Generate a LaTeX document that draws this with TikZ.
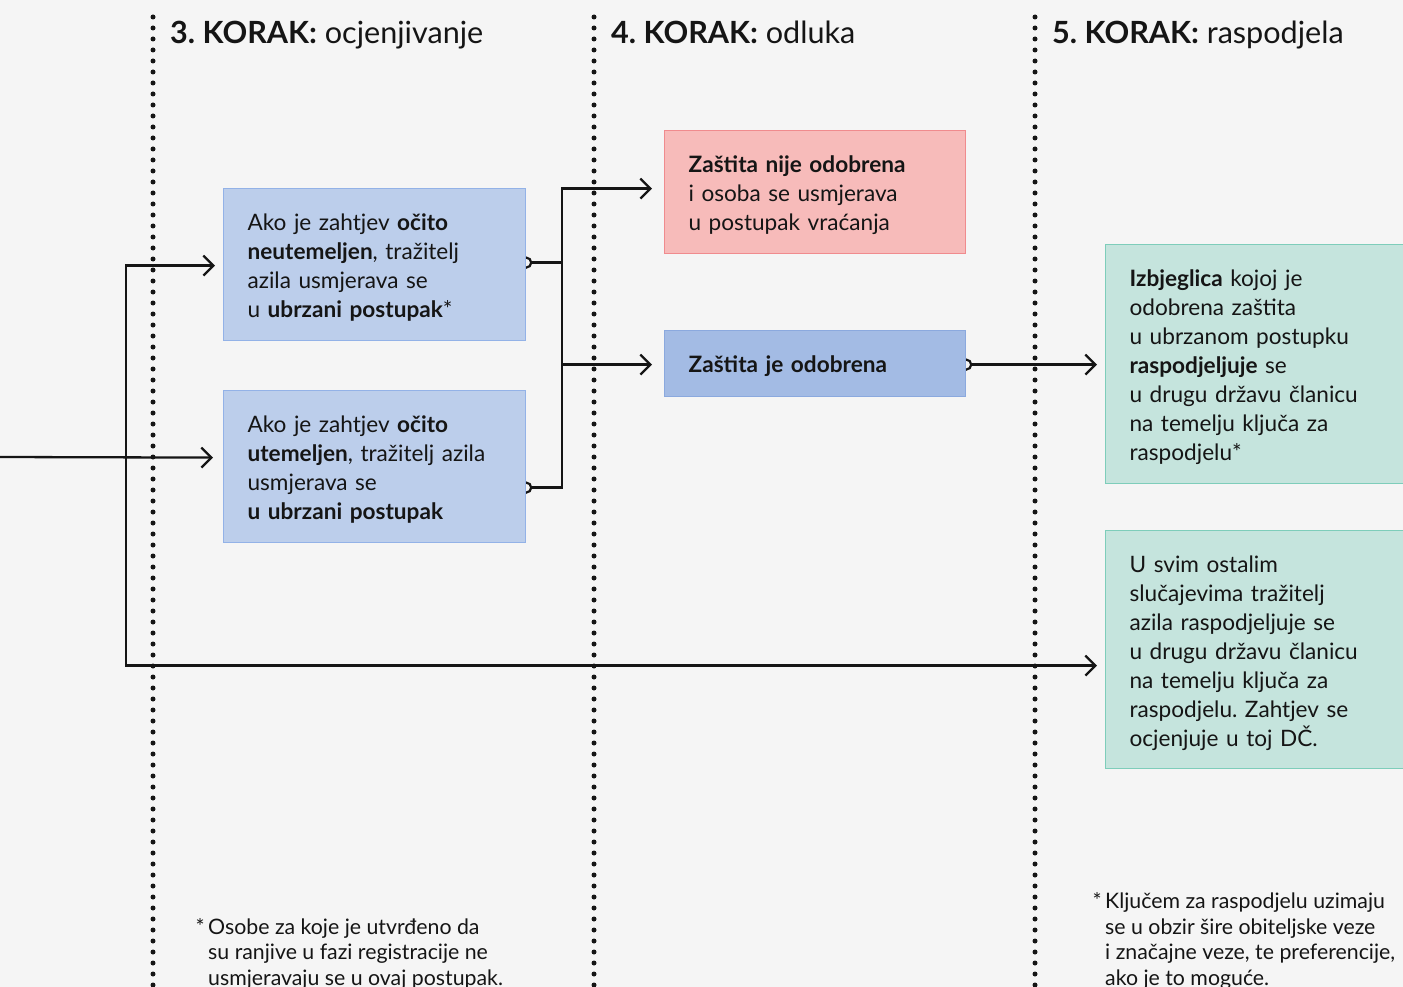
\documentclass[tikz,border=0pt]{standalone}
\usepackage{fontspec}
\setmainfont{Lato}
\usetikzlibrary{arrows.meta,calc}
\pgfdeclarelayer{bg}
\pgfdeclarelayer{conn}
\pgfsetlayers{bg,conn,main}
\frenchspacing
\definecolor{bgc}{HTML}{F5F5F5}
\definecolor{ink}{HTML}{151515}
\definecolor{blueA}{HTML}{BCCEEB}
\definecolor{blueAb}{HTML}{93B2E7}
\definecolor{blueB}{HTML}{A3BBE4}
\definecolor{blueBb}{HTML}{8BA9DE}
\definecolor{redA}{HTML}{F7BBBA}
\definecolor{redAb}{HTML}{F08B8E}
\definecolor{greenA}{HTML}{C5E4DD}
\definecolor{greenAb}{HTML}{7ECDBA}
\newcommand{\boxfont}{\fontsize{22.6}{29}\selectfont}
\newcommand{\headfont}{\fontsize{30.6}{36}\selectfont}
\newcommand{\notefont}{\fontsize{21.3}{25.5}\selectfont}
\tikzset{
  stepbox/.style={draw, rectangle, anchor=north west, inner xsep=24pt, inner ysep=0pt,
    align=left, line width=1.2pt, font=\boxfont, text=ink, text height=42pt},
  conn/.style={draw=ink, line width=2.3pt},
  arr/.style={conn, -{Straight Barb[length=10pt,width=20pt]}},
  startdot/.style={draw=ink, fill=bgc, line width=2.2pt},
  dotline/.style={draw=ink, line width=5pt, line cap=round, dash pattern=on 0pt off 11pt},
  head/.style={anchor=base west, font=\headfont, text=ink, inner sep=0pt},
  note/.style={anchor=base west, align=left, font=\notefont, text=ink, inner sep=0pt}
}
\begin{document}
\begin{tikzpicture}[x=1pt,y=-1pt]
\begin{pgfonlayer}{bg}
\fill[bgc] (0,0) rectangle (1403,987);
\end{pgfonlayer}
\useasboundingbox (0,0) rectangle (1403,987);

% column separators
\draw[dotline] (153,17) -- (153,987);
\draw[dotline] (594,17) -- (594,987);
\draw[dotline] (1035,17) -- (1035,987);

% headers
\node[head] (h3) at (170,44) {\textbf{3. KORAK:} ocjenjivanje};
\node[head] (h4) at (611,44) {\textbf{4. KORAK:} odluka};
\node[head] (h5) at (1052,44) {\textbf{5. KORAK:} raspodjela};

% boxes (text height = first baseline below top, text depth = rest of box)
\node[stepbox, fill=blueA, draw=blueAb, text width=254pt, text depth=110pt] (a) at (223,188)
  {Ako je zahtjev \textbf{očito}\\\textbf{neutemeljen}, tražitelj\\azila usmjerava se\\u \textbf{ubrzani postupak}*};
\node[stepbox, fill=blueA, draw=blueAb, text width=254pt, text depth=110pt] (b) at (223,390)
  {Ako je zahtjev \textbf{očito}\\\textbf{utemeljen}, tražitelj azila\\usmjerava se\\\textbf{u ubrzani postupak}};
\node[stepbox, fill=redA, draw=redAb, text width=253pt, text depth=81pt] (r) at (664,130)
  {\textbf{Zaštita nije odobrena}\\i osoba se usmjerava\\u postupak vraćanja};
\node[stepbox, fill=blueB, draw=blueBb, text width=253pt, text depth=24pt] (ok) at (664,330)
  {\textbf{Zaštita je odobrena}};
\node[stepbox, fill=greenA, draw=greenAb, text width=262pt, text depth=197pt] (g1) at (1105,244)
  {\textbf{Izbjeglica} kojoj je\\odobrena zaštita\\u ubrzanom postupku\\\textbf{raspodjeljuje} se\\u drugu državu članicu\\na temelju ključa za\\raspodjelu*};
\node[stepbox, fill=greenA, draw=greenAb, text width=262pt, text depth=196pt] (g2) at (1105,530)
  {U svim ostalim\\slučajevima tražitelj\\azila raspodjeljuje se\\u drugu državu članicu\\na temelju ključa za\\raspodjelu. Zahtjev se\\ocjenjuje u toj DČ.};

% footnotes
\node[note] (n1) at (208,985) {\llap{*\,}Osobe za koje je utvrđeno da\\su ranjive u fazi registracije ne\\usmjeravaju se u ovaj postupak.};
\node[note] (n2) at (1105,985) {\llap{*\,}Ključem za raspodjelu uzimaju\\se u obzir šire obiteljske veze\\i značajne veze, te preferencije,\\ako je to moguće.};

% connectors
\coordinate (in) at (0,457);
\coordinate (split) at (126,457);
\coordinate (jx) at (562,0);
\coordinate (aout) at ($(a.east)+(0,-2)$);
\coordinate (bout) at ($(b.east)+(0,21)$);
\coordinate (okout) at ($(ok.east)+(0,1)$);
\begin{pgfonlayer}{conn}
\draw[arr] (in) -- ($(b.west)+(-10,-9)$);
\draw[arr] (split) |- ($(a.west)+(-8,1)$);
\draw[arr] (split) |- ($(g2.west)+(-8,16)$);
\draw[arr] (aout) -- (aout -| jx) |- ($(r.west)+(-12,-3.5)$);
\draw[arr] (aout -| jx) |- ($(ok.west)+(-12,1)$);
\draw[conn] (bout) -- (bout -| jx) -- (aout -| jx);
\draw[arr] (okout) -- ($(g1.west)+(-8,0.5)$);
\draw[startdot] (aout) circle[radius=5];
\draw[startdot] (bout) circle[radius=5];
\draw[startdot] (okout) circle[radius=5];
\end{pgfonlayer}
\end{tikzpicture}
\end{document}
